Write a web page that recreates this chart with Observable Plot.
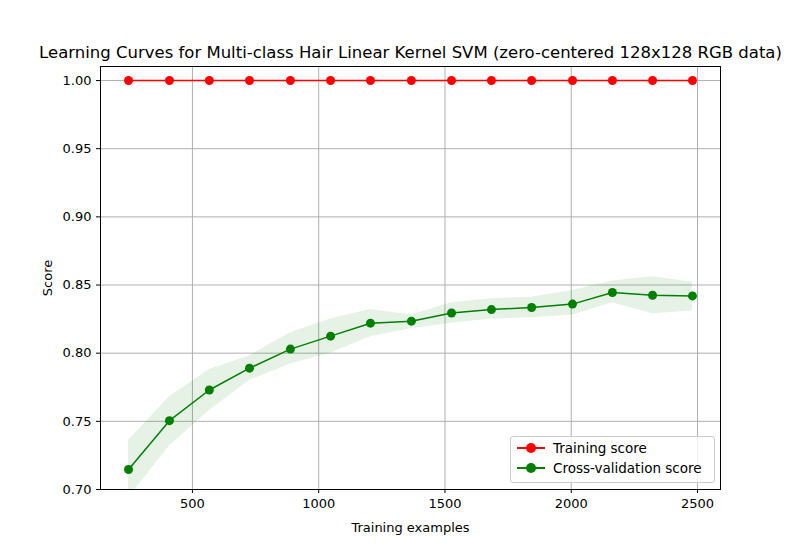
<!DOCTYPE html>
<html>
<head>
<meta charset="UTF-8">
<script src="https://cdn.jsdelivr.net/npm/d3@7"></script>
<script src="https://cdn.jsdelivr.net/npm/@observablehq/plot@0.6"></script>
<style>
  body { margin: 0; background: #fff; }
  #chart { position: relative; width: 801px; height: 549px; font-family: "DejaVu Sans", sans-serif; }
  #legend { position: absolute; left: 510px; top: 436px; width: 203px; height: 45px; border: 1px solid #ccc; border-radius: 3px; background: rgba(255,255,255,0.8); font-size: 13.5px; }
  .row { position: absolute; left: 6px; height: 18px; display: flex; align-items: center; }
  .sw { position: relative; width: 28px; height: 2px; margin-right: 8px; }
  .sw i { position: absolute; left: 9px; top: -4px; width: 10px; height: 10px; border-radius: 50%; }
</style>
</head>
<body>
<div id="chart">
  <div id="legend">
    <div class="row" style="top:2px"><div class="sw" style="background:red"><i style="background:red"></i></div>Training score</div>
    <div class="row" style="top:22px"><div class="sw" style="background:green"><i style="background:green"></i></div>Cross-validation score</div>
  </div>
</div>
<script>
// training set sizes
const sizes = [247, 409, 567, 726, 888, 1047, 1205, 1367, 1526, 1684, 1843, 2005, 2163, 2322, 2480];
const trainScore = [1, 1, 1, 1, 1, 1, 1, 1, 1, 1, 1, 1, 1, 1, 1];
const cvScore = [0.7147, 0.7505, 0.773, 0.789, 0.803, 0.8125, 0.822, 0.8235, 0.8295, 0.832, 0.8335, 0.836, 0.8445, 0.8425, 0.842];
const cvUpper = [0.736, 0.768, 0.788, 0.798, 0.815, 0.825, 0.832, 0.828, 0.837, 0.840, 0.841, 0.846, 0.853, 0.856, 0.852];
const cvLower = [0.694, 0.732, 0.758, 0.780, 0.792, 0.800, 0.812, 0.818, 0.822, 0.825, 0.826, 0.828, 0.837, 0.829, 0.831];

const train = sizes.map((s, i) => ({x: s, y: trainScore[i]}));
const cv = sizes.map((s, i) => ({x: s, y: cvScore[i], lo: cvLower[i], hi: cvUpper[i]}));

const plot = Plot.plot({
  width: 801,
  height: 549,
  marginTop: 66,
  marginLeft: 100,
  marginRight: 81,
  marginBottom: 60,
  style: {fontFamily: "DejaVu Sans, sans-serif", fontSize: "13px", color: "#000"},
  x: {domain: [136, 2591], ticks: [500, 1000, 1500, 2000, 2500], tickFormat: d3.format("d"), tickSize: 4, label: "Training examples", labelAnchor: "center", labelArrow: "none", labelOffset: 42},
  y: {domain: [0.70, 1.0103], ticks: d3.range(0.70, 1.001, 0.05), tickFormat: d3.format(".2f"), tickSize: 4, label: "Score", labelAnchor: "center", labelArrow: "none", labelOffset: 58},
  marks: [
    Plot.gridX([500, 1000, 1500, 2000, 2500], {stroke: "#b0b0b0", strokeOpacity: 1}),
    Plot.gridY(d3.range(0.70, 1.001, 0.05), {stroke: "#b0b0b0", strokeOpacity: 1}),
    Plot.areaY(cv, {x: "x", y1: "lo", y2: "hi", fill: "green", fillOpacity: 0.1, clip: true}),
    Plot.line(train, {x: "x", y: "y", stroke: "red", strokeWidth: 1.5}),
    Plot.dot(train, {x: "x", y: "y", fill: "red", r: 4.5}),
    Plot.line(cv, {x: "x", y: "y", stroke: "green", strokeWidth: 1.5}),
    Plot.dot(cv, {x: "x", y: "y", fill: "green", r: 4.5}),
    Plot.frame({stroke: "#000"}),
    Plot.text(["Learning Curves for Multi-class Hair Linear Kernel SVM (zero-centered 128x128 RGB data)"], {frameAnchor: "top", dy: -20, fontSize: 16.5, text: d => d})
  ]
});
document.querySelector("#chart").prepend(plot);
</script>
</body>
</html>
